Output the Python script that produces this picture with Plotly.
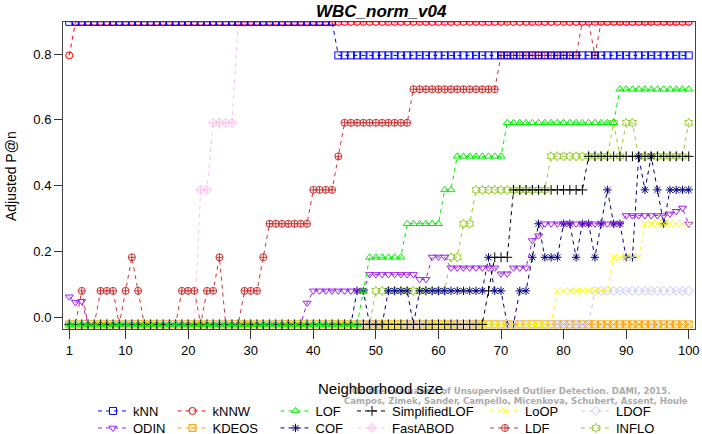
import plotly.graph_objects as go

# ---------------- data ----------------
neighborhood = list(range(1, 101))
x_ticks = [1, 10, 20, 30, 40, 50, 60, 70, 80, 90, 100]
y_ticks = [0.0, 0.2, 0.4, 0.6, 0.8]
y_tick_labels = ["0.0", "0.2", "0.4", "0.6", "0.8"]

knn = [
    .898, .898, .898, .898, .898, .898, .898, .898, .898, .898,
    .898, .898, .898, .898, .898, .898, .898, .898, .898, .898,
    .898, .898, .898, .898, .898, .898, .898, .898, .898, .898,
    .898, .898, .898, .898, .898, .898, .898, .898, .898, .898,
    .898, .898, .898, .796, .796, .796, .796, .796, .796, .796,
    .796, .796, .796, .796, .796, .796, .796, .796, .796, .796,
    .796, .796, .796, .796, .796, .796, .796, .796, .796, .796,
    .796, .796, .796, .796, .796, .796, .796, .796, .796, .796,
    .796, .796, .796, .796, .796, .796, .796, .796, .796, .796,
    .796, .796, .796, .796, .796, .796, .796, .796, .796, .796,
]
knnw = [
    .796, .898, .898, .898, .898, .898, .898, .898, .898, .898,
    .898, .898, .898, .898, .898, .898, .898, .898, .898, .898,
    .898, .898, .898, .898, .898, .898, .898, .898, .898, .898,
    .898, .898, .898, .898, .898, .898, .898, .898, .898, .898,
    .898, .898, .898, .898, .898, .898, .898, .898, .898, .898,
    .898, .898, .898, .898, .898, .898, .898, .898, .898, .898,
    .898, .898, .898, .898, .898, .898, .898, .898, .898, .898,
    .898, .898, .898, .898, .898, .898, .898, .898, .898, .898,
    .898, .898, .898, .898, .898, .898, .898, .898, .898, .898,
    .898, .898, .898, .898, .898, .898, .898, .898, .898, .898,
]
lof = [
    -.022, -.022, -.022, -.022, -.022, -.022, -.022, -.022, -.022, -.022,
    -.022, -.022, -.022, -.022, -.022, -.022, -.022, -.022, -.022, -.022,
    -.022, -.022, -.022, -.022, -.022, -.022, -.022, -.022, -.022, -.022,
    -.022, -.022, -.022, -.022, -.022, -.022, -.022, -.022, -.022, -.022,
    -.022, -.022, -.022, -.022, -.022, -.022, -.022, .080, .182, .182,
    .182, .182, .182, .182, .284, .284, .284, .284, .284, .284,
    .387, .387, .489, .489, .489, .489, .489, .489, .489, .489,
    .591, .591, .591, .591, .591, .591, .591, .591, .591, .591,
    .591, .591, .591, .591, .591, .591, .591, .591, .693, .693,
    .693, .693, .693, .693, .693, .693, .693, .693, .693, .693,
]
simplified_lof = [
    -.022, -.022, -.022, -.022, -.022, -.022, -.022, -.022, -.022, -.022,
    -.022, -.022, -.022, -.022, -.022, -.022, -.022, -.022, -.022, -.022,
    -.022, -.022, -.022, -.022, -.022, -.022, -.022, -.022, -.022, -.022,
    -.022, -.022, -.022, -.022, -.022, -.022, -.022, -.022, -.022, -.022,
    -.022, -.022, -.022, -.022, -.022, -.022, -.022, -.022, -.022, -.022,
    -.022, -.022, -.022, -.022, -.022, -.022, -.022, -.022, -.022, -.022,
    -.022, -.022, -.022, -.022, -.022, -.022, -.022, .080, .182, .182,
    .182, .387, .387, .387, .387, .387, .387, .387, .387, .387,
    .387, .387, .387, .489, .489, .489, .489, .489, .489, .489,
    .489, .489, .489, .489, .489, .489, .489, .489, .489, .489,
]
loop = [
    -.022, -.022, -.022, -.022, -.022, -.022, -.022, -.022, -.022, -.022,
    -.022, -.022, -.022, -.022, -.022, -.022, -.022, -.022, -.022, -.022,
    -.022, -.022, -.022, -.022, -.022, -.022, -.022, -.022, -.022, -.022,
    -.022, -.022, -.022, -.022, -.022, -.022, -.022, -.022, -.022, -.022,
    -.022, -.022, -.022, -.022, -.022, -.022, -.022, -.022, -.022, -.022,
    -.022, -.022, -.022, -.022, -.022, -.022, -.022, -.022, -.022, -.022,
    -.022, -.022, -.022, -.022, -.022, -.022, -.022, -.022, -.022, -.022,
    -.022, -.022, -.022, -.022, -.022, -.022, -.022, -.022, .080, .080,
    .080, .080, .080, .080, .080, .080, .080, .182, .182, .182,
    .182, .182, .284, .284, .284, .284, .284, .284, .284, .284,
]
ldof = [
    -.022, -.022, -.022, -.022, -.022, -.022, -.022, -.022, -.022, -.022,
    -.022, -.022, -.022, -.022, -.022, -.022, -.022, -.022, -.022, -.022,
    -.022, -.022, -.022, -.022, -.022, -.022, -.022, -.022, -.022, -.022,
    -.022, -.022, -.022, -.022, -.022, -.022, -.022, -.022, -.022, -.022,
    -.022, -.022, -.022, -.022, -.022, -.022, -.022, -.022, -.022, -.022,
    -.022, -.022, -.022, -.022, -.022, -.022, -.022, -.022, -.022, -.022,
    -.022, -.022, -.022, -.022, -.022, -.022, -.022, -.022, -.022, -.022,
    -.022, -.022, -.022, -.022, -.022, -.022, -.022, -.022, -.022, -.022,
    -.022, -.022, -.022, -.022, .080, .080, .080, .080, .080, .080,
    .080, .080, .080, .080, .080, .080, .080, .080, .080, .080,
]
odin = [
    .062, .045, .048, -.022, -.022, -.022, -.022, -.022, -.022, -.022,
    -.022, -.022, -.022, -.022, -.022, -.022, -.022, -.022, -.022, -.022,
    -.022, -.022, -.022, -.022, -.022, -.022, -.022, -.022, -.022, -.022,
    -.022, -.022, -.022, -.022, -.022, -.022, -.022, -.022, .043, .080,
    .080, .080, .080, .080, .080, .080, .080, .080, .130, .130,
    .130, .130, .130, .130, .130, .130, .115, .115, .183, .183,
    .183, .150, .150, .150, .150, .150, .150, .150, .150, .132,
    .132, .150, .150, .150, .233, .248, .284, .284, .284, .284,
    .284, .284, .284, .284, .284, .284, .284, .284, .284, .309,
    .309, .309, .309, .309, .309, .309, .314, .322, .332, .283,
]
kdeos = [
    -.022, -.022, -.022, -.022, -.022, -.022, -.022, -.022, -.022, -.022,
    -.022, -.022, -.022, -.022, -.022, -.022, -.022, -.022, -.022, -.022,
    -.022, -.022, -.022, -.022, -.022, -.022, -.022, -.022, -.022, -.022,
    -.022, -.022, -.022, -.022, -.022, -.022, -.022, -.022, -.022, -.022,
    -.022, -.022, -.022, -.022, -.022, -.022, -.022, -.022, -.022, -.022,
    -.022, -.022, -.022, -.022, -.022, -.022, -.022, -.022, -.022, -.022,
    -.022, -.022, -.022, -.022, -.022, -.022, -.022, -.022, -.022, -.022,
    -.022, -.022, -.022, -.022, -.022, -.022, -.022, -.022, -.022, -.022,
    -.022, -.022, -.022, -.022, -.022, -.022, -.022, -.022, -.022, -.022,
    -.022, -.022, -.022, -.022, -.022, -.022, -.022, -.022, -.022, -.022,
]
cof = [
    -.022, -.022, -.022, -.022, -.022, -.022, -.022, -.022, -.022, -.022,
    -.022, -.022, -.022, -.022, -.022, -.022, -.022, -.022, -.022, -.022,
    -.022, -.022, -.022, -.022, -.022, -.022, -.022, -.022, -.022, -.022,
    -.022, -.022, -.022, -.022, -.022, -.022, -.022, -.022, -.022, -.022,
    -.022, -.022, -.022, -.022, -.022, -.022, .080, .080, -.022, -.022,
    -.022, .080, .080, .080, .080, -.022, .080, .080, .080, .080,
    .080, .080, .080, .080, .080, .080, .080, .182, .080, .080,
    -.022, -.022, .080, .080, .182, .284, .182, .182, .182, .284,
    .284, .182, .284, .284, .182, .284, .387, .284, .284, .182,
    .182, .489, .387, .489, .387, .284, .387, .387, .387, .387,
]
fastabod = [
    -.022, -.022, -.022, -.022, -.022, -.022, -.022, -.022, -.022, -.022,
    -.022, -.022, -.022, -.022, -.022, -.022, -.022, -.022, -.022, -.022,
    -.022, .387, .387, .591, .591, .591, .591, .898, .898, .898,
    .898, .898, .898, .898, .898, .898, .898, .898, .898, .898,
    .898, .898, .898, .898, .898, .898, .898, .898, .898, .898,
    .898, .898, .898, .898, .898, .898, .898, .898, .898, .898,
    .898, .898, .898, .898, .898, .898, .898, .898, .898, .898,
    .898, .898, .898, .898, .898, .898, .898, .898, .898, .898,
    .898, .898, .898, .898, .898, .898, .898, .898, .898, .898,
    .898, .898, .898, .898, .898, .898, .898, .898, .898, .898,
]
ldf = [
    -.022, -.022, .080, -.022, -.022, .080, .080, .080, -.022, .080,
    .182, .080, -.022, -.022, -.022, -.022, -.022, -.022, .080, .080,
    .080, -.022, .080, .080, .182, -.022, -.022, -.022, .080, .080,
    .080, .182, .284, .284, .284, .284, .284, .284, .284, .387,
    .387, .387, .387, .489, .591, .591, .591, .591, .591, .591,
    .591, .591, .591, .591, .591, .693, .693, .693, .693, .693,
    .693, .693, .693, .693, .693, .693, .693, .693, .693, .796,
    .796, .796, .796, .796, .796, .796, .796, .796, .796, .796,
    .796, .796, .898, .898, .796, .898, .898, .898, .898, .898,
    .898, .898, .898, .898, .898, .898, .898, .898, .898, .898,
]
inflo = [
    -.022, -.022, -.022, -.022, -.022, -.022, -.022, -.022, -.022, -.022,
    -.022, -.022, -.022, -.022, -.022, -.022, -.022, -.022, -.022, -.022,
    -.022, -.022, -.022, -.022, -.022, -.022, -.022, -.022, -.022, -.022,
    -.022, -.022, -.022, -.022, -.022, -.022, -.022, -.022, -.022, -.022,
    -.022, -.022, -.022, -.022, -.022, -.022, -.022, -.022, -.022, .080,
    .080, .080, .080, .080, .080, .080, .080, .080, .080, .080,
    .080, .182, .182, .284, .284, .387, .387, .387, .387, .387,
    .387, .387, .387, .387, .387, .387, .387, .489, .489, .489,
    .489, .489, .489, .489, .489, .489, .489, .591, .489, .591,
    .591, .489, .489, .489, .489, .489, .489, .489, .489, .591,
]

# ---------------- styles ----------------
# (name, values, color, symbol, legend id, legend column px, legend row)
series = [
    ("INFLO", inflo, "#9acd32", "hexagram-open", "legend12", 596, 2),
    ("LDF", ldf, "#cd3333", "circle-cross-open", "legend11", 505, 2),
    ("FastABOD", fastabod, "#ffc0f0", "diamond-cross-open", "legend10", 372, 2),
    ("COF", cof, "#000080", "asterisk-open", "legend9", 295.5, 2),
    ("KDEOS", kdeos, "#ffa500", "square-x-open", "legend8", 192.5, 2),
    ("ODIN", odin, "#a020f0", "triangle-down-open", "legend7", 113, 2),
    ("LDOF", ldof, "#c8c8ff", "diamond-open", "legend6", 596, 1),
    ("LoOP", loop, "#ffff00", "x-thin-open", "legend5", 505, 1),
    ("SimplifiedLOF", simplified_lof, "#000000", "cross-thin-open", "legend4", 372, 1),
    ("LOF", lof, "#00ee00", "triangle-up-open", "legend3", 295.5, 1),
    ("kNNW", knnw, "#ff0000", "circle-open", "legend2", 192.5, 1),
    ("kNN", knn, "#0000ff", "square-open", "legend", 113, 1),
]

W, H = 702, 434
ML, MR, MT, MB = 63, 7, 22, 105
PW, PH = W - ML - MR, H - MT - MB


def px_to_paper_x(px):
    return (px - ML) / PW


def px_to_paper_y(py):
    return (H - MB - py) / PH


FONT = "Liberation Sans, Arial, Helvetica, sans-serif"

fig = go.Figure()
layout_legends = {}
for name, vals, color, symbol, leg, col_px, row in series:
    assert len(vals) == 100, name
    fig.add_trace(go.Scatter(
        x=neighborhood, y=vals, name=name, mode="lines+markers",
        line=dict(color=color, width=1, dash="4px,4px"),
        marker=dict(symbol=symbol, size=7, color=color,
                    line=dict(color=color, width=1)),
        legend=leg, showlegend=True,
    ))
    layout_legends[leg] = dict(
        x=px_to_paper_x(col_px - 20), xanchor="left",
        y=px_to_paper_y(411 if row == 1 else 428), yanchor="middle",
        orientation="v", bgcolor="rgba(0,0,0,0)", borderwidth=0,
        font=dict(family=FONT, size=13, color="#000000"),
        itemwidth=30,
    )

fig.update_layout(
    width=W, height=H,
    margin=dict(l=ML, r=MR, t=MT, b=MB, pad=0, autoexpand=False),
    paper_bgcolor="white", plot_bgcolor="white",
    font=dict(family=FONT, size=13, color="#000000"),
    xaxis=dict(
        range=[0, 101], tickmode="array", tickvals=x_ticks,
        ticktext=[str(v) for v in x_ticks],
        showgrid=False, zeroline=False, showline=True, mirror=True,
        linecolor="#444444", linewidth=1,
        ticks="outside", ticklen=9, tickcolor="#333333", tickwidth=1,
        tickfont=dict(family=FONT, size=13, color="#000000"),
    ),
    yaxis=dict(
        range=[-0.036, 0.8975], tickmode="array", tickvals=y_ticks,
        ticktext=y_tick_labels,
        showgrid=False, zeroline=False, showline=True, mirror=True,
        linecolor="#444444", linewidth=1,
        ticks="outside", ticklen=8, tickcolor="#333333", tickwidth=1,
        tickfont=dict(family=FONT, size=13, color="#000000"),
    ),
    **layout_legends,
)

WM_FONT = "DejaVu Sans Condensed, Liberation Sans Narrow, sans-serif"
annotations = [
    dict(text="<b>On the Evaluation of Unsupervised Outlier Detection. DAMI, 2015.</b>",
         x=px_to_paper_x(511), y=px_to_paper_y(390), xref="paper", yref="paper",
         showarrow=False, xanchor="center", yanchor="middle",
         font=dict(family=WM_FONT, size=9.5, color="#ababab")),
    dict(text="<b>Campos, Zimek, Sander, Campello, Micenkova, Schubert, Assent, Houle</b>",
         x=px_to_paper_x(516), y=px_to_paper_y(400), xref="paper", yref="paper",
         showarrow=False, xanchor="center", yanchor="middle",
         font=dict(family=WM_FONT, size=9.5, color="#ababab")),
    dict(text="Neighborhood size", x=px_to_paper_x(380), y=px_to_paper_y(388),
         xref="paper", yref="paper", showarrow=False, xanchor="center", yanchor="middle",
         font=dict(family=FONT, size=15, color="#000000")),
    dict(text="Adjusted P@n", x=px_to_paper_x(11), y=px_to_paper_y(176),
         xref="paper", yref="paper", showarrow=False, xanchor="center", yanchor="middle",
         textangle=-90, font=dict(family=FONT, size=14, color="#000000")),
    dict(text="<b><i>WBC_norm_v04</i></b>", x=px_to_paper_x(381), y=px_to_paper_y(12),
         xref="paper", yref="paper", showarrow=False, xanchor="center", yanchor="middle",
         font=dict(family=FONT, size=17, color="#000000")),
]
fig.update_layout(annotations=annotations)

fig.write_html(
    "out.html",
    config={"displayModeBar": False},
    post_script="document.body.style.margin='0';document.body.style.overflow='hidden';",
)
